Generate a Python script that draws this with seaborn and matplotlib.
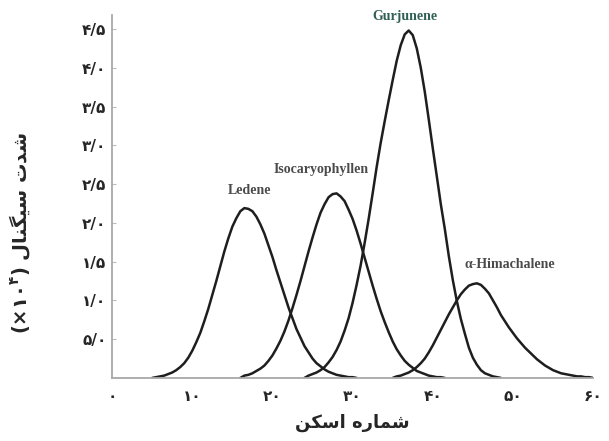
import numpy as np
import pandas as pd
import matplotlib
matplotlib.use("Agg")
import matplotlib.pyplot as plt
import seaborn as sns

# ---------------- data ----------------
compounds = ["Ledene", "Isocaryophyllen", "Gurjunene", "α-Himachalene"]

ledene_scan = np.arange(5.0, 31.0, 0.5)
ledene_signal = [0.00, 0.01, 0.02, 0.03, 0.05, 0.07, 0.10, 0.14, 0.19, 0.26,
                 0.35, 0.46, 0.58, 0.73, 0.89, 1.07, 1.25, 1.44, 1.63, 1.80,
                 1.95, 2.06, 2.15, 2.19,
                 2.18, 2.15, 2.08, 1.98, 1.86, 1.71, 1.56, 1.39, 1.23, 1.07,
                 0.91, 0.77, 0.63, 0.52, 0.41, 0.33, 0.25, 0.19, 0.15, 0.11,
                 0.08, 0.06, 0.04, 0.03, 0.02, 0.01, 0.01, 0.00]

iso_scan = np.arange(16.0, 42.0, 0.5)
iso_signal = [0.00, 0.03, 0.04, 0.06, 0.09, 0.12, 0.16, 0.22, 0.29, 0.38,
              0.48, 0.60, 0.74, 0.90, 1.07, 1.25, 1.44, 1.63, 1.81, 1.98,
              2.13, 2.24, 2.33, 2.37,
              2.38, 2.34, 2.28, 2.17, 2.05, 1.90, 1.73, 1.55, 1.37, 1.19,
              1.02, 0.86, 0.72, 0.59, 0.47, 0.37, 0.29, 0.22, 0.17, 0.13,
              0.09, 0.07, 0.05, 0.03, 0.02, 0.01, 0.01, 0.00]

gurj_scan = np.arange(24.0, 49.0, 0.5)
gurj_signal = [0.00, 0.03, 0.05, 0.07, 0.10, 0.14, 0.20, 0.27, 0.36, 0.47,
               0.61, 0.77, 0.97, 1.20, 1.45, 1.74, 2.05, 2.38, 2.72, 3.03,
               3.31, 3.58, 3.84, 4.09, 4.29, 4.43,
               4.48,
               4.42, 4.25, 4.00, 3.69, 3.33, 2.96, 2.60, 2.24, 1.92, 1.57,
               1.26, 0.99, 0.76, 0.57, 0.39, 0.26, 0.17, 0.10, 0.06, 0.04,
               0.02, 0.01, 0.00]

him_scan = np.arange(35.0, 60.5, 0.5)
him_signal = [0.00, 0.02, 0.03, 0.05, 0.07, 0.10, 0.14, 0.19, 0.25, 0.33,
              0.42, 0.52, 0.62, 0.72, 0.82, 0.91, 1.00, 1.08, 1.14, 1.19,
              1.21,
              1.22, 1.20, 1.15, 1.09, 1.00, 0.91, 0.81, 0.73, 0.65, 0.58,
              0.51, 0.45, 0.39, 0.34, 0.29, 0.24, 0.20, 0.16, 0.13, 0.10,
              0.08, 0.06, 0.05, 0.04, 0.03, 0.02, 0.02, 0.01, 0.01, 0.00]

x_ticks = [0, 10, 20, 30, 40, 50, 60]
x_tick_labels = ["۰", "۱۰", "۲۰", "۳۰", "۴۰", "۵۰", "۶۰"]
y_ticks = [0.5, 1.0, 1.5, 2.0, 2.5, 3.0, 3.5, 4.0, 4.5]
y_tick_labels = ["۵/۰", "۱/۰", "۱/۵", "۲/۰", "۲/۵", "۳/۰", "۳/۵", "۴/۰", "۴/۵"]

# Persian axis titles (presentation forms, visual order)
x_title = "\uFEE6\uFB91\uFEB3\uFE8D \uFEE9\uFEAD\uFE8E\uFEE4\uFEB7"          # شماره اسکن
y_title = "(×۱۰$^{۴}$) \uFEDD\uFE8E\uFEE8\uFB95\uFBFF\uFEB3 \uFE95\uFEAA\uFEB7"  # شدت سیگنال

frames = []
for name, xs, ys in [(compounds[0], ledene_scan, ledene_signal),
                     (compounds[1], iso_scan, iso_signal),
                     (compounds[2], gurj_scan, gurj_signal),
                     (compounds[3], him_scan, him_signal)]:
    frames.append(pd.DataFrame({"scan": xs, "signal": ys, "compound": name}))
df = pd.concat(frames, ignore_index=True)

# ---------------- styling ----------------
sns.set_style("ticks")
plt.rcParams["font.family"] = ["DejaVu Sans"]
plt.rcParams["mathtext.fontset"] = "dejavusans"
plt.rcParams["mathtext.default"] = "regular"

fig = plt.figure(figsize=(6.09, 4.41), dpi=100)
ax = fig.add_axes([0.184, 0.143, 0.79, 0.823])

sns.lineplot(data=df, x="scan", y="signal", hue="compound", units="compound",
             estimator=None, palette=["#1e1e1e"] * 4, linewidth=1.8,
             legend=False, ax=ax)

ax.set_xlim(0, 60)
ax.set_ylim(0, 4.68)
ax.set_xticks(x_ticks)
ax.set_xticklabels(x_tick_labels, fontsize=11, fontweight="bold")
ax.set_yticks(y_ticks)
ax.set_yticklabels(y_tick_labels, fontsize=11, fontweight="bold")
ax.tick_params(axis="x", length=0, pad=8)
ax.tick_params(axis="y", direction="in", length=3, color="#bbbbbb", pad=4)

for s in ["top", "right"]:
    ax.spines[s].set_visible(False)
for s in ["left", "bottom"]:
    ax.spines[s].set_color("#a8a8a8")
    ax.spines[s].set_linewidth(1.3)

ax.set_xlabel(x_title, fontsize=13, fontweight="bold")
ax.set_ylabel(y_title, fontsize=14, fontweight="bold")
ax.xaxis.set_label_coords(0.5, -0.10)
ax.yaxis.set_label_coords(-0.165, 0.40)

label_pos = [(17.1, 2.42), (26.1, 2.69), (36.5, 4.66), (49.6, 1.46)]
label_col = ["#4a4a4a", "#4a4a4a", "#2f5f55", "#4a4a4a"]
for name, (lx, ly), c in zip(compounds, label_pos, label_col):
    ax.text(lx, ly, name, ha="center", va="center", fontsize=10,
            fontweight="bold", family="Liberation Serif", color=c)

fig.savefig("out.png", dpi=100)
